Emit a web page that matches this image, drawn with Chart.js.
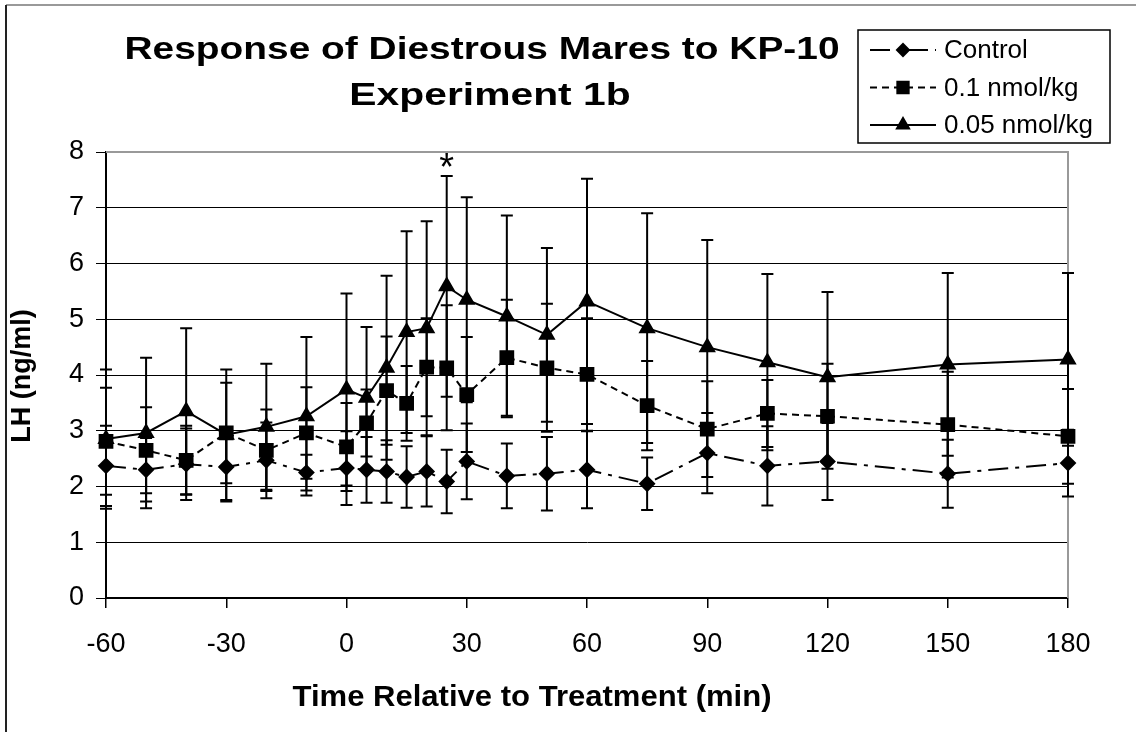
<!DOCTYPE html>
<html>
<head>
<meta charset="utf-8">
<script src="https://cdn.jsdelivr.net/npm/chart.js@4"></script>
<style>
  body { margin: 0; background: #fff; }
</style>
</head>
<body>
<canvas id="myChart" width="1136" height="732"></canvas>
<script>
// time points (min relative to treatment)
let times = [-60, -50, -40, -30, -20, -10, 0, 5, 10, 15, 20, 25, 30, 40, 50, 60, 75, 90, 105, 120, 150, 180];

// LH (ng/ml) means and SEM
let control = [2.37, 2.30, 2.40, 2.35, 2.47, 2.25, 2.33, 2.30, 2.27, 2.17, 2.27, 2.09, 2.45, 2.19, 2.23, 2.30, 2.05, 2.60, 2.37, 2.45, 2.23, 2.42];
let controlSem = [0.72, 0.57, 0.64, 0.62, 0.68, 0.32, 0.66, 0.59, 0.56, 0.55, 0.63, 0.57, 0.68, 0.58, 0.66, 0.69, 0.47, 0.72, 0.71, 0.69, 0.61, 0.60];

let dose01 = [2.81, 2.65, 2.47, 2.96, 2.65, 2.96, 2.71, 3.14, 3.72, 3.49, 4.14, 4.13, 3.65, 4.31, 4.13, 4.01, 3.45, 3.03, 3.31, 3.26, 3.11, 2.90];
let dose01Sem = [0.96, 0.77, 0.62, 0.90, 0.73, 0.82, 0.79, 0.60, 0.97, 0.67, 0.88, 1.12, 1.03, 1.04, 1.15, 1.01, 0.80, 0.86, 0.60, 0.94, 0.95, 0.85];

let dose005 = [2.85, 2.96, 3.35, 2.93, 3.07, 3.26, 3.74, 3.59, 4.13, 4.77, 4.84, 5.59, 5.35, 5.05, 4.72, 5.32, 4.84, 4.50, 4.23, 3.96, 4.19, 4.28];
let dose005Sem = [1.25, 1.35, 1.49, 1.17, 1.13, 1.42, 1.72, 1.27, 1.65, 1.81, 1.92, 1.98, 1.84, 1.81, 1.56, 2.20, 2.06, 1.92, 1.58, 1.53, 1.64, 1.55];

let seriesNames = ["Control", "0.1 nmol/kg", "0.05 nmol/kg"];
let titleLines = ["Response of Diestrous Mares to KP-10", "Experiment 1b"];
let xTitle = "Time Relative to Treatment (min)";
let yTitle = "LH (ng/ml)";
let xTicks = [-60, -30, 0, 30, 60, 90, 120, 150, 180];

// significant time point
let starTime = 25;
let starValue = 7.9;

const FONT = "'Liberation Sans', Arial, sans-serif";

function toPoints(values) {
  return values.map((v, i) => ({ x: times[i], y: v }));
}

let sems = [controlSem, dose01Sem, dose005Sem];

let datasets = [
  {
    label: seriesNames[0],
    data: toPoints(control),
    borderColor: "#000",
    backgroundColor: "#000",
    borderWidth: 2,
    borderDash: [20, 7, 4, 7],
    pointStyle: "rectRot",
    pointRadius: 7,
    clip: false,
  },
  {
    label: seriesNames[1],
    data: toPoints(dose01),
    borderColor: "#000",
    backgroundColor: "#000",
    borderWidth: 2,
    borderDash: [7, 5],
    pointStyle: "rect",
    pointRadius: 9,
    clip: false,
  },
  {
    label: seriesNames[2],
    data: toPoints(dose005),
    borderColor: "#000",
    backgroundColor: "#000",
    borderWidth: 2,
    pointStyle: "triangle",
    pointRadius: 8,
    clip: false,
  },
];

// draw text stretched horizontally by sx, centered on cx
function wideText(ctx, text, cx, cy, sx) {
  ctx.save();
  ctx.translate(cx, cy);
  ctx.scale(sx, 1);
  ctx.textAlign = "center";
  ctx.fillText(text, 0, 0);
  ctx.restore();
}

// error bars, drawn through the chart's own scales
const errorBars = {
  id: "errorBars",
  afterDatasetsDraw(chart) {
    let ctx = chart.ctx;
    let xs = chart.scales.x;
    let ys = chart.scales.y;
    ctx.save();
    ctx.strokeStyle = "#000";
    ctx.lineWidth = 2;
    ctx.setLineDash([]);
    datasets.forEach((ds, d) => {
      ds.data.forEach((p, i) => {
        let e = sems[d][i];
        let x = xs.getPixelForValue(p.x);
        let top = ys.getPixelForValue(p.y + e);
        let bot = ys.getPixelForValue(p.y - e);
        ctx.beginPath();
        ctx.moveTo(x, top);
        ctx.lineTo(x, bot);
        ctx.moveTo(x - 6, top);
        ctx.lineTo(x + 6, top);
        ctx.moveTo(x - 6, bot);
        ctx.lineTo(x + 6, bot);
        ctx.stroke();
      });
    });
    ctx.restore();
  },
};

// frame, titles, asterisk, plot border and legend box
const decorations = {
  id: "decorations",
  beforeDraw(chart) {
    let ctx = chart.ctx;
    ctx.save();
    ctx.fillStyle = "#fff";
    ctx.fillRect(0, 0, chart.width, chart.height);
    ctx.lineWidth = 2;
    ctx.strokeStyle = "#999";
    ctx.beginPath();
    ctx.moveTo(6, 5);
    ctx.lineTo(chart.width, 5);
    ctx.stroke();
    ctx.strokeStyle = "#222";
    ctx.beginPath();
    ctx.moveTo(6, 5);
    ctx.lineTo(6, chart.height);
    ctx.stroke();
    ctx.restore();
  },
  beforeDatasetsDraw(chart) {
    let ctx = chart.ctx;
    let area = chart.chartArea;
    ctx.save();
    // gray top/right border of plot area
    ctx.strokeStyle = "#999";
    ctx.lineWidth = 2;
    ctx.beginPath();
    ctx.moveTo(area.left, area.top);
    ctx.lineTo(area.right, area.top);
    ctx.lineTo(area.right, area.bottom);
    ctx.stroke();
    ctx.restore();
  },
  afterDraw(chart) {
    let ctx = chart.ctx;
    ctx.save();

    // title
    ctx.fillStyle = "#000";
    ctx.textBaseline = "middle";
    ctx.font = "bold 32px " + FONT;
    let sx = 715 / ctx.measureText(titleLines[0]).width;
    wideText(ctx, titleLines[0], 482, 50, sx);
    wideText(ctx, titleLines[1], 490, 96, sx * 1.05);

    // x axis title
    ctx.font = "bold 29px " + FONT;
    wideText(ctx, xTitle, 532, 698, 479 / ctx.measureText(xTitle).width);

    // y axis title
    ctx.save();
    ctx.translate(23, 376);
    ctx.rotate(-Math.PI / 2);
    ctx.font = "bold 27px " + FONT;
    wideText(ctx, yTitle, 0, 0, 1);
    ctx.restore();

    // asterisk
    ctx.font = "38px " + FONT;
    ctx.textAlign = "center";
    ctx.fillText("*", chart.scales.x.getPixelForValue(starTime), chart.scales.y.getPixelForValue(starValue) + 12);

    // legend
    let lx = 858, ly = 30, lw = 252, lh = 113;
    ctx.fillStyle = "#fff";
    ctx.fillRect(lx, ly, lw, lh);
    ctx.strokeStyle = "#000";
    ctx.lineWidth = 1.5;
    ctx.strokeRect(lx, ly, lw, lh);
    ctx.font = "26px " + FONT;
    ctx.textAlign = "left";
    datasets.forEach((ds, i) => {
      let y = ly + 20 + i * 37.5;
      ctx.strokeStyle = "#000";
      ctx.lineWidth = 2;
      ctx.setLineDash(ds.borderDash || []);
      ctx.beginPath();
      ctx.moveTo(lx + 12, y);
      ctx.lineTo(lx + 78, y);
      ctx.stroke();
      ctx.setLineDash([]);
      ctx.fillStyle = "#000";
      Chart.helpers.drawPoint(ctx, { pointStyle: ds.pointStyle, radius: ds.pointRadius - 1, borderWidth: 1 }, lx + 45, y);
      ctx.fillText(ds.label, lx + 86, y + 1);
    });
    ctx.restore();
  },
};

let ctx = document.getElementById("myChart").getContext("2d");
let myChart = new Chart(ctx, {
  type: "line",
  data: { datasets },
  plugins: [decorations, errorBars],
  options: {
    responsive: false,
    animation: false,
    devicePixelRatio: 1,
    layout: { padding: { top: 152, right: 68, bottom: 0, left: 6 } },
    plugins: {
      legend: { display: false },
      title: { display: false },
      tooltip: { enabled: false },
    },
    scales: {
      x: {
        type: "linear",
        min: -60,
        max: 180,
        afterBuildTicks: (scale) => {
          scale.ticks = xTicks.map((v) => ({ value: v }));
        },
        afterFit: (scale) => {
          scale.height = 134;
        },
        ticks: {
          color: "#000",
          font: { family: FONT, size: 27 },
          padding: 20,
          maxRotation: 0,
        },
        grid: { drawOnChartArea: false, color: "#000", tickLength: 10, lineWidth: 1.5 },
        border: { color: "#000", width: 2 },
      },
      y: {
        min: 0,
        max: 8,
        afterFit: (scale) => {
          scale.width = 100;
        },
        ticks: {
          stepSize: 1,
          color: "#000",
          font: { family: FONT, size: 27 },
          padding: 12,
        },
        grid: { color: "#000", lineWidth: 1, tickLength: 10 },
        border: { color: "#000", width: 2 },
      },
    },
  },
});
</script>
</body>
</html>
